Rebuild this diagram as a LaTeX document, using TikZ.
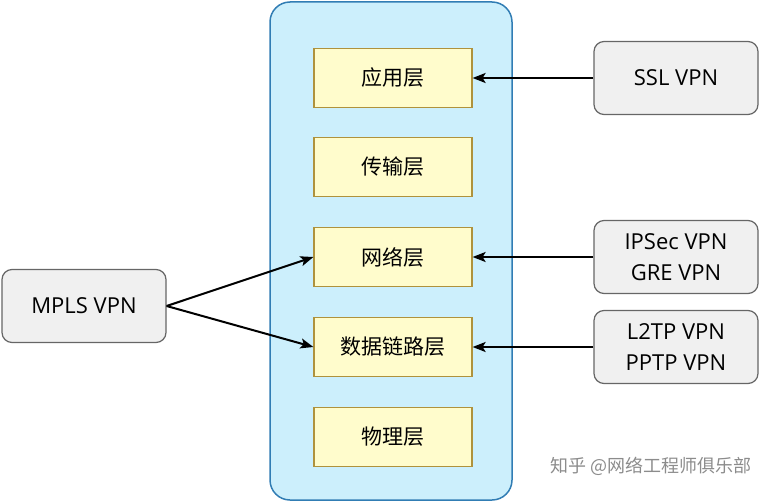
\documentclass[tikz,border=0pt]{standalone}
\usepackage{fontspec}
\setmainfont{Open Sans}
\newfontfamily\cjk{Noto Sans CJK SC}
\usetikzlibrary{arrows.meta}
\begin{document}
\begin{tikzpicture}[x=1pt,y=-1pt,
  layer/.style={draw=yellow!50!black!70!orange,fill=yellow!20,minimum width=158pt,minimum height=59pt,font=\cjk\fontsize{21}{24}\selectfont,line width=1.2pt},
  vpn/.style={draw=black!60,fill=black!6,rounded corners=10pt,minimum width=164pt,minimum height=73pt,align=center,font=\fontsize{22}{31}\selectfont,line width=1.2pt},
  arr/.style={-{Stealth[length=13pt,width=10pt,inset=3pt]},line width=2pt}]
\useasboundingbox (0,0) rectangle (760,503);
\draw[draw=cyan!70!blue!80!black,fill=cyan!20,rounded corners=20pt,line width=1.5pt] (270,2) rectangle (512,500);
\node[layer] (l7) at (393,78) {应用层};
\node[layer] (l4) at (393,167) {传输层};
\node[layer] (l3) at (393,257) {网络层};
\node[layer] (l2) at (393,347) {数据链路层};
\node[layer] (l1) at (393,437) {物理层};
\node[vpn] (ssl) at (676,78) {SSL VPN};
\node[vpn] (ip) at (676,257) {IPSec VPN\\GRE VPN};
\node[vpn] (l2tp) at (676,347) {L2TP VPN\\PPTP VPN};
\node[vpn] (mpls) at (84,306) {MPLS VPN};
\draw[arr] (ssl) -- (l7);
\draw[arr] (ip) -- (l3);
\draw[arr] (l2tp) -- (l2);
\draw[arr] (mpls.east) -- (l3.west);
\draw[arr] (mpls.east) -- (l2.west);
\node[text=black!45,font=\cjk\fontsize{18}{20}\selectfont,anchor=east] (wm) at (755,466) {知乎 @网络工程师俱乐部};
\end{tikzpicture}
\end{document}
